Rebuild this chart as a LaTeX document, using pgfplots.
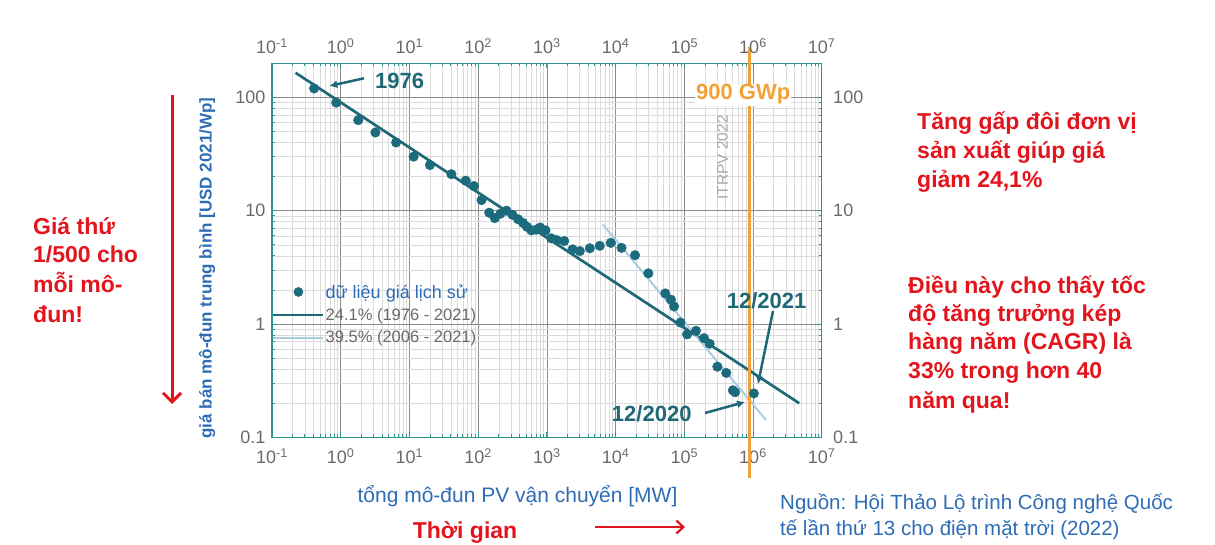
\documentclass[border=0pt]{standalone}
\usepackage{fontspec}
\setmainfont{Liberation Sans}
\usepackage{pgfplots}
\pgfplotsset{compat=1.18}
\usetikzlibrary{arrows.meta}
\definecolor{teal1}{HTML}{1B6B7D}
\definecolor{teal2}{HTML}{1E6877}
\definecolor{lightl}{HTML}{A9CDE3}
\definecolor{frame}{HTML}{2E958E}
\definecolor{tickc}{HTML}{6A6A6A}
\definecolor{blue1}{HTML}{2E6CB5}
\definecolor{red1}{HTML}{E3141C}
\definecolor{orange1}{HTML}{F0A238}
\definecolor{itr}{HTML}{A8A8A8}
\begin{document}
\begin{tikzpicture}[x=1pt,y=1pt]
\path[use as bounding box] (0,0) rectangle (1215,544);
\begin{axis}[
  at={(272pt,106.7pt)}, anchor=south west,
  scale only axis, width=549.7pt, height=374pt,
  xmode=log, ymode=log,
  xmin=0.1, xmax=1e7, ymin=0.1, ymax=200,
  xtick={0.1,1,10,100,1000,10000,100000,1000000,10000000},
  xticklabels={10\textsuperscript{-1},10\textsuperscript{0},10\textsuperscript{1},10\textsuperscript{2},10\textsuperscript{3},10\textsuperscript{4},10\textsuperscript{5},10\textsuperscript{6},10\textsuperscript{7}},
  ytick={0.1,1,10,100}, yticklabels={0.1,1,10,100},
  tick label style={font=\fontsize{18}{20}\selectfont, text=tickc},
  minor xtick={0.2,0.3,0.4,0.5,0.6,0.7,0.8,0.9,2,3,4,5,6,7,8,9,20,30,40,50,60,70,80,90,200,300,400,500,600,700,800,900,2000,3000,4000,5000,6000,7000,8000,9000,2e4,3e4,4e4,5e4,6e4,7e4,8e4,9e4,2e5,3e5,4e5,5e5,6e5,7e5,8e5,9e5,2e6,3e6,4e6,5e6,6e6,7e6,8e6,9e6},
  minor ytick={0.2,0.3,0.4,0.5,0.6,0.7,0.8,0.9,2,3,4,5,6,7,8,9,20,30,40,50,60,70,80,90},
  grid=both,
  major grid style={draw=black!45, line width=0.7pt},
  minor grid style={draw=black!14, line width=0.5pt},
  axis line style={draw=frame, line width=1.4pt},
  tick style={draw=frame, line width=0.8pt},
  major tick length=5pt, minor tick length=3pt,
  xticklabel style={yshift=-8pt},
  yticklabel style={xshift=-3pt},
  clip=false,
  legend style={at={(0,0.412)}, anchor=north west, draw=none, fill=none,
    inner xsep=0pt, inner ysep=0pt, row sep=7pt,
    nodes={inner xsep=1pt, inner ysep=1pt},
    font=\fontsize{16.5}{18}\selectfont, text=tickc},
  legend cell align=left,
]
\addlegendimage{legend image code/.code={\fill[teal1] (25pt,0pt) circle (4.6pt);}}
\addlegendentry[text=blue1, font=\fontsize{18}{20}\selectfont]{dữ liệu giá lịch sử}
\addlegendimage{legend image code/.code={\draw[teal2, line width=2.5pt] (0pt,0pt) -- (50pt,0pt);}}
\addlegendentry{24.1\% (1976 - 2021)}
\addlegendimage{legend image code/.code={\draw[lightl, line width=2pt] (0pt,0pt) -- (50pt,0pt);}}
\addlegendentry{39.5\% (2006 - 2021)}

\addplot[teal2, line width=2.7pt, forget plot] coordinates {(0.22,165) (4.7e6,0.2)};
\addplot[only marks, mark=*, mark size=4.8pt, color=teal1, forget plot] coordinates {
(0.41,120) (0.86,90) (1.80,63) (3.2,49) (6.4,40) (11.5,30) (19.9,25.3) (40.8,21)
(66,18.4) (86.6,16.5) (112,12.4) (145,9.6) (175,8.6) (211,9.4) (259,10) (316,9.2)
(382,8.4) (450,7.8) (515,7.2) (596,6.7) (700,6.8) (800,7.1) (956,6.7) (1160,5.7)
(1390,5.5) (1790,5.4) (2370,4.56) (3020,4.4) (4220,4.66) (5890,4.9) (8500,5.2)
(12200,4.7) (19200,4.05) (30000,2.8) (53000,1.86) (64000,1.64) (71000,1.43)
(88000,1.03) (110000,0.81) (148000,0.87) (194000,0.75) (234000,0.67)
(303000,0.42) (408000,0.37) (509000,0.26) (550000,0.25) (1030000,0.244)
};
\addplot[lightl, line width=2pt, forget plot] coordinates {(6500,7.6) (1.55e6,0.142)};
\addplot[orange1, line width=3pt, forget plot] coordinates {(9e5,0.0438) (9e5,280)};
\end{axis}
\begin{axis}[
  at={(272pt,106.7pt)}, anchor=south west,
  scale only axis, width=549.7pt, height=374pt,
  xmode=log, ymode=log,
  xmin=0.1, xmax=1e7, ymin=0.1, ymax=200,
  xtick={0.1,1,10,100,1000,10000,100000,1000000,10000000},
  xticklabels={10\textsuperscript{-1},10\textsuperscript{0},10\textsuperscript{1},10\textsuperscript{2},10\textsuperscript{3},10\textsuperscript{4},10\textsuperscript{5},10\textsuperscript{6},10\textsuperscript{7}},
  ytick={0.1,1,10,100}, yticklabels={0.1,1,10,100},
  tick label style={font=\fontsize{18}{20}\selectfont, text=tickc},
  minor xtick={}, minor ytick={},
  axis line style={draw=none}, tick style={draw=none},
  major tick length=0pt, minor tick length=0pt,
  xticklabel pos=upper, yticklabel pos=right,
  xticklabel style={yshift=6pt},
  yticklabel style={xshift=8pt},
]
\addplot[draw=none] coordinates {(1,1)};
\end{axis}

% annotations inside plot
\node[anchor=base west, fill=white, inner sep=1pt, text=orange1, font=\fontsize{22}{24}\selectfont\bfseries] at (695,444) {900 GWp};
\node[rotate=90, text=itr, font=\fontsize{15.5}{17}\selectfont] at (722.5,386.5) {ITRPV 2022};
\node[anchor=base west, inner sep=0pt, text=teal2, font=\fontsize{22}{24}\selectfont\bfseries] at (375,455.7) {1976};
\node[anchor=base west, inner sep=0pt, text=teal2, font=\fontsize{22}{24}\selectfont\bfseries] at (726.7,235.7) {12/2021};
\node[anchor=base east, inner sep=0pt, text=teal2, font=\fontsize{22}{24}\selectfont\bfseries] at (691.7,122.3) {12/2020};
\draw[teal2, line width=2.5pt, -{Latex[length=8pt,width=8pt]}] (364,465.7) -- (329.3,458);
\draw[teal2, line width=2.5pt, -{Latex[length=8pt,width=8pt]}] (773,233) -- (758,160);
\draw[teal2, line width=2.5pt, -{Latex[length=8pt,width=8pt]}] (705,131) -- (745,142);

% axis titles
\node[rotate=90, text=blue1, font=\fontsize{17}{19}\selectfont\bfseries] at (207,276) {giá bán mô-đun trung bình [USD 2021/Wp]};
\node[anchor=base, inner sep=0pt, text=blue1, font=\fontsize{21}{23}\selectfont] at (517.5,42) {tổng mô-đun PV vận chuyển [MW]};

% red annotations
\begin{scope}[every node/.style={anchor=base west, inner sep=0pt, text=red1, font=\fontsize{23}{26}\selectfont\bfseries}]
\node at (33,309) {Giá thứ};
\node at (33,281) {1/500 cho};
\node at (33,251) {mỗi mô-};
\node at (33,222) {đun!};
\node at (917,414.7) {Tăng gấp đôi đơn vị};
\node at (917,385.7) {sản xuất giúp giá};
\node at (917,356.7) {giảm 24,1\%};
\node at (908,250.7) {Điều này cho thấy tốc};
\node at (908,222.3) {độ tăng trưởng kép};
\node at (908,194) {hàng năm (CAGR) là};
\node at (908,165.7) {33\% trong hơn 40};
\node at (908,135.7) {năm qua!};
\end{scope}
\draw[red1, line width=3pt, -{Straight Barb[length=9pt,width=18pt,line width=3pt]}] (172,449) -- (172,140);

% bottom
\node[anchor=base, inner sep=0pt, text=red1, font=\fontsize{23}{26}\selectfont\bfseries] at (465,6) {Thời gian};
\draw[red1, line width=2.2pt, -{Straight Barb[length=7pt,width=13pt,line width=2.2pt]}] (595,17) -- (685,17);
\node[anchor=base west, inner sep=0pt, text=blue1, font=\fontsize{20.5}{23}\selectfont] at (780,35) {Nguồn: Hội Thảo Lộ trình Công nghệ Quốc};
\node[anchor=base west, inner sep=0pt, text=blue1, font=\fontsize{20.5}{23}\selectfont] at (780,9) {tế lần thứ 13 cho điện mặt trời (2022)};
\end{tikzpicture}
\end{document}
